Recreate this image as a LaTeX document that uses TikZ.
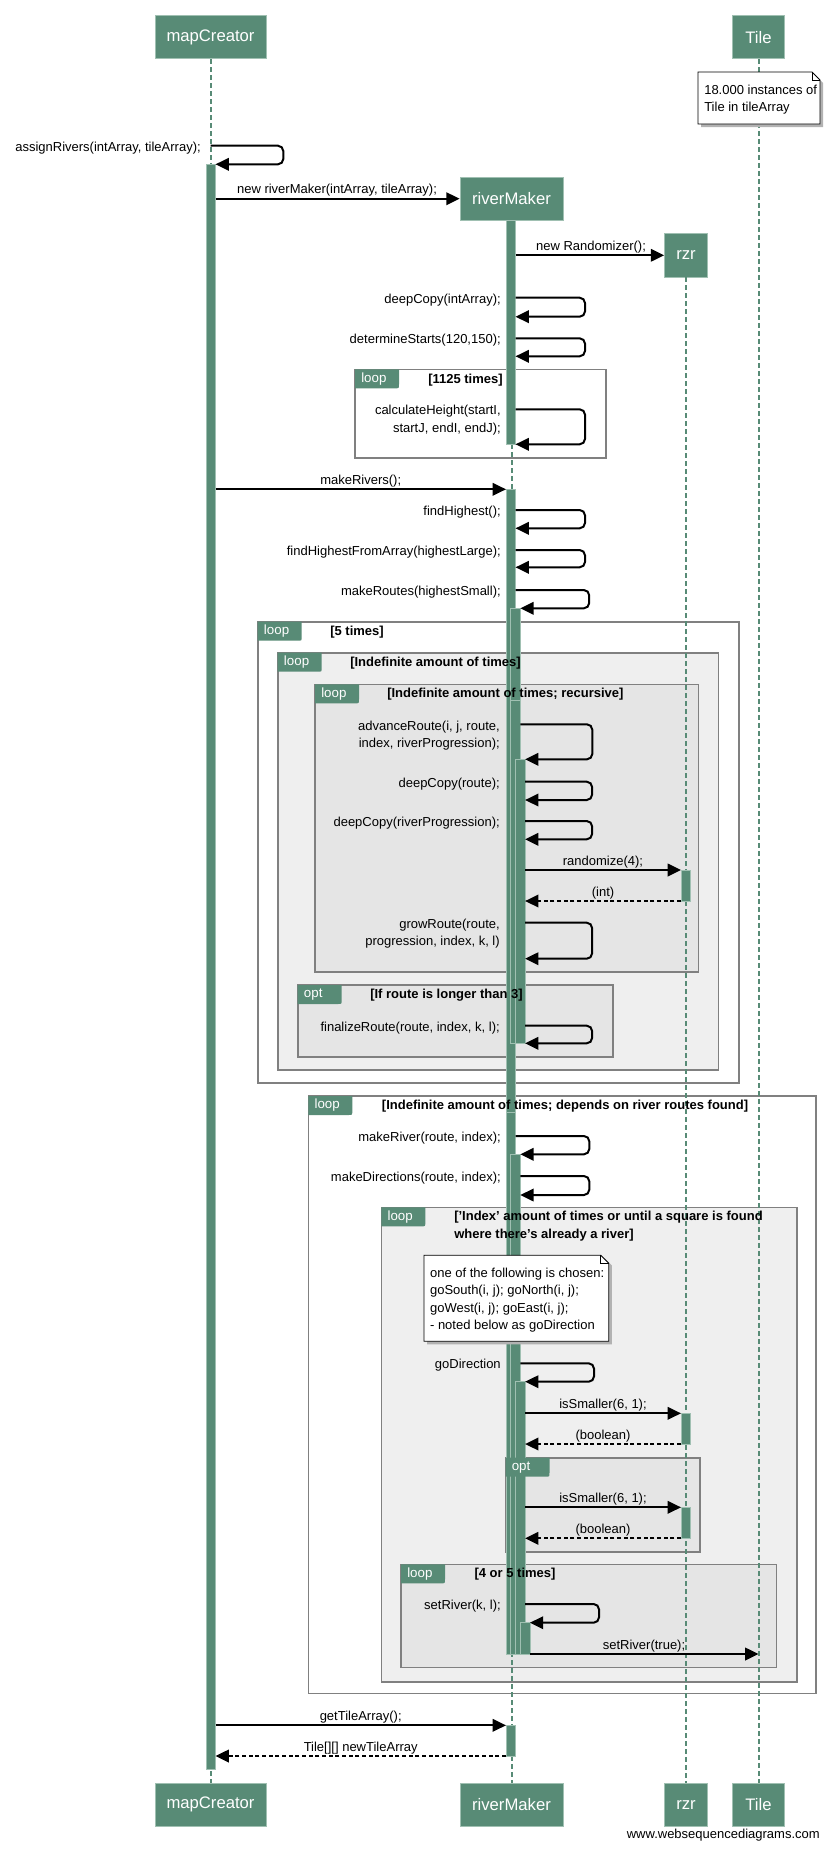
\documentclass[tikz,border=0pt]{standalone}
\usepackage{fontspec}
\setmainfont{Liberation Sans}
\usepackage{xcolor}
\usetikzlibrary{arrows.meta}

\definecolor{seqgreen}{RGB}{88,139,118}
\definecolor{seqedge}{RGB}{160,192,178}
\definecolor{framegray}{RGB}{128,128,128}
\definecolor{fillA}{RGB}{239,239,239}
\definecolor{fillB}{RGB}{229,229,229}

\tikzset{
  head/.style={fill=seqgreen, draw=seqedge, line width=0.6pt, text=white, inner sep=0pt, font=\fontsize{12.5}{15}\selectfont},
  life/.style={seqgreen, line width=1.5pt, dash pattern=on 3.75pt off 2.25pt},
  bar/.style={fill=seqgreen, draw=seqedge, line width=0.5pt},
  frame/.style={draw=framegray, line width=1.2pt},
  tagbox/.style={fill=seqgreen},
  tagtxt/.style={text=white, anchor=west, inner sep=0pt, font=\fontsize{10}{12}\selectfont},
  guard/.style={anchor=base west, inner sep=0pt, align=left, font=\bfseries\fontsize{9.75}{13}\selectfont},
  call/.style={line width=1.5pt, -{Triangle[length=10pt,width=9.4pt]}},
  reply/.style={call, dash pattern=on 3pt off 2pt},
  lbl/.style={inner sep=0pt, font=\fontsize{9.75}{13}\selectfont},
  notebox/.style={fill=white, draw=black, line width=0.6pt},
}

\begin{document}
\begin{tikzpicture}[x=0.75pt,y=0.75pt,yscale=-1,xscale=1]
\useasboundingbox (0,0) rectangle (826,1850);

% lifeline and bar edges
\coordinate (mc) at (210.5,0);
\coordinate (mcR) at (215.5,0);
\coordinate (rm1L) at (506,0);
\coordinate (rm1R) at (515.5,0);
\coordinate (rm2R) at (520.3,0);
\coordinate (rm3R) at (525.1,0);
\coordinate (rm4R) at (529.9,0);
\coordinate (rzL) at (681,0);
\coordinate (ti) at (758.5,0);

%Shape: Frames
\draw[frame, fill=white] (355,369.3) rectangle (606,457.7);
\draw[frame, fill=white] (257.7,621.7) rectangle (739,1082.7);
\draw[frame, fill=fillA] (277.7,652.7) rectangle (718.3,1070);
\draw[frame, fill=fillB] (315,684.3) rectangle (698.3,971.7);
\draw[frame, fill=fillB] (297.7,985) rectangle (612.7,1056.7);
\draw[frame, fill=white] (308.3,1096) rectangle (816,1693.3);
\draw[frame, fill=fillA] (381.3,1207.3) rectangle (797,1681.7);
\draw[frame, fill=fillB] (505.5,1457.7) rectangle (700,1551.7);
\draw[frame, fill=fillB] (401,1564.3) rectangle (776.5,1667.3);

%Shape: Heads
\node[head, minimum width=83.25pt, minimum height=32.25pt] (mcTop) at (210.5,37.2) {mapCreator};
\node[head, minimum width=39pt, minimum height=32.25pt] (tiTop) at (758.5,37.2) {Tile};
\node[head, minimum width=77.25pt, minimum height=32.25pt] (rmTop) at (511.5,198.5) {riverMaker};
\node[head, minimum width=32.25pt, minimum height=33pt] (rzTop) at (686,255) {rzr};
\node[head, minimum width=83.25pt, minimum height=32.25pt] (mcBot) at (210.5,1804.7) {mapCreator};
\node[head, minimum width=77.25pt, minimum height=32.25pt] (rmBot) at (511.5,1804.7) {riverMaker};
\node[head, minimum width=32.25pt, minimum height=32.25pt] (rzBot) at (686,1804.7) {rzr};
\node[head, minimum width=39pt, minimum height=32.25pt] (tiBot) at (758.5,1804.7) {Tile};

%Straight Lines: lifelines
\draw[life] (mcTop.south) -- (mcBot.north);
\draw[life] (rmTop.south) -- (rmBot.north);
\draw[life] (rzTop.south) -- (rzBot.north);
\draw[life] (tiTop.south) -- (tiBot.north);

%Shape: Activation bars
\draw[bar] (206,164.3) rectangle (215.5,1769.3);
\draw[bar] (506,220) rectangle (515.5,444.3);
\draw[bar] (506,489.3) rectangle (515.5,1654);
\draw[bar] (510.8,608.3) rectangle (520.3,1043.3);
\draw[bar] (510.8,700) rectangle (520.3,1043.3);
\draw[bar] (515.6,759.3) rectangle (525.1,1043.3);
\draw[bar] (506,1112) rectangle (515.5,1654);
\draw[bar] (510.8,1154.3) rectangle (520.3,1654);
\draw[bar] (515.6,1381.7) rectangle (525.1,1654);
\draw[bar] (520.4,1622.7) rectangle (529.9,1654);
\draw[bar] (506,1725.3) rectangle (515.5,1756);
\draw[bar] (681,870) rectangle (690,901);
\draw[bar] (681,1413.3) rectangle (690,1444);
\draw[bar] (681,1507.3) rectangle (690,1538.3);

%Shape: Tags and guards
\fill[tagbox] (355,369.3) -- (399,369.3) -- (399,384.3) .. controls (399,388.3) .. (395,388.3) -- (355,388.3) -- cycle;
\node[tagtxt] (tag1) at (361,378.8) {loop};
\node[guard] (grd1) at (428,383) {[1125 times]};

\fill[tagbox] (257.7,621.7) -- (301.7,621.7) -- (301.7,636.7) .. controls (301.7,640.7) .. (297.7,640.7) -- (257.7,640.7) -- cycle;
\node[tagtxt] (tag2) at (263.7,631.2) {loop};
\node[guard] (grd2) at (330,635.2) {[5 times]};

\fill[tagbox] (277.7,652.7) -- (321.7,652.7) -- (321.7,667.7) .. controls (321.7,671.7) .. (317.7,671.7) -- (277.7,671.7) -- cycle;
\node[tagtxt] (tag3) at (283.7,662.2) {loop};
\node[guard] (grd3) at (350,666.2) {[Indefinite amount of times]};

\fill[tagbox] (315,684.3) -- (359,684.3) -- (359,699.3) .. controls (359,703.3) .. (355,703.3) -- (315,703.3) -- cycle;
\node[tagtxt] (tag4) at (321,693.8) {loop};
\node[guard] (grd4) at (387,697.8) {[Indefinite amount of times; recursive]};

\fill[tagbox] (297.7,985) -- (341.7,985) -- (341.7,1000) .. controls (341.7,1004) .. (337.7,1004) -- (297.7,1004) -- cycle;
\node[tagtxt] (tag5) at (303.7,994.5) {opt};
\node[guard] (grd5) at (370,998.5) {[If route is longer than 3]};

\fill[tagbox] (308.3,1096) -- (352.3,1096) -- (352.3,1111) .. controls (352.3,1115) .. (348.3,1115) -- (308.3,1115) -- cycle;
\node[tagtxt] (tag6) at (314.3,1105.5) {loop};
\node[guard] (grd6) at (381.7,1109.5) {[Indefinite amount of times; depends on river routes found]};

\fill[tagbox] (381.3,1207.3) -- (425.3,1207.3) -- (425.3,1222.3) .. controls (425.3,1226.3) .. (421.3,1226.3) -- (381.3,1226.3) -- cycle;
\node[tagtxt] (tag7) at (387.3,1216.8) {loop};
\node[guard, anchor=north west] (grd7) at (454,1211.2) {['Index' amount of times or until a square is found\\where there's already a river]};

\fill[tagbox] (505.5,1457.7) -- (549.5,1457.7) -- (549.5,1472.7) .. controls (549.5,1476.7) .. (545.5,1476.7) -- (505.5,1476.7) -- cycle;
\node[tagtxt] (tag8) at (511.5,1467.2) {opt};

\fill[tagbox] (401,1564.3) -- (445,1564.3) -- (445,1579.3) .. controls (445,1583.3) .. (441,1583.3) -- (401,1583.3) -- cycle;
\node[tagtxt] (tag9) at (407,1573.8) {loop};
\node[guard] (grd9) at (474.3,1577.8) {[4 or 5 times]};

%Straight Lines: messages
\draw[call, rounded corners=4pt] (mc |- 0,145.7) -- ++(72.8,0) |- (mcR |- 0,164.3);
\node[lbl, anchor=base east] (lAssign) at (201,151.5) {assignRivers(intArray, tileArray);};

\draw[call] (mcR |- 0,198.7) -- (rmTop.west |- 0,198.7);
\node[lbl, anchor=base] (lNewRm) at (337,193.7) {new riverMaker(intArray, tileArray);};

\draw[call] (rm1R |- 0,255.3) -- (rzTop.west |- 0,255.3);
\node[lbl, anchor=base] (lNewRz) at (591,250.3) {new Randomizer();};

\draw[call, rounded corners=4pt] (rm1R |- 0,297.7) -- ++(69.5,0) |- (rm1R |- 0,316.7);
\node[lbl, anchor=base east] (lCopyInt) at (501,303.2) {deepCopy(intArray);};

\draw[call, rounded corners=4pt] (rm1R |- 0,338.3) -- ++(69.5,0) |- (rm1R |- 0,356.3);
\node[lbl, anchor=base east] (lStarts) at (501,343.8) {determineStarts(120,150);};

\draw[call, rounded corners=4pt] (rm1R |- 0,409.3) -- ++(69.5,0) |- (rm1R |- 0,444.3);
\node[lbl, anchor=north east, align=right] (lHeight) at (501,405.3) {calculateHeight(startI,\\startJ, endI, endJ);};

\draw[call] (mcR |- 0,489.3) -- (rm1L |- 0,489.3);
\node[lbl, anchor=base] (lRivers) at (360.7,484.3) {makeRivers();};

\draw[call, rounded corners=4pt] (rm1R |- 0,510) -- ++(69.5,0) |- (rm1R |- 0,528.3);
\node[lbl, anchor=base east] (lHigh) at (501,515.5) {findHighest();};

\draw[call, rounded corners=4pt] (rm1R |- 0,550) -- ++(69.5,0) |- (rm1R |- 0,567.3);
\node[lbl, anchor=base east] (lHighArr) at (501,555.5) {findHighestFromArray(highestLarge);};

\draw[call, rounded corners=4pt] (rm1R |- 0,590) -- ++(73.7,0) |- (rm2R |- 0,608.3);
\node[lbl, anchor=base east] (lRoutes) at (501,595.5) {makeRoutes(highestSmall);};

\draw[call, rounded corners=4pt] (rm2R |- 0,724.3) -- ++(72,0) |- (rm3R |- 0,759.3);
\node[lbl, anchor=north east, align=right] (lAdvance) at (500,720.3) {advanceRoute(i, j, route,\\index, riverProgression);};

\draw[call, rounded corners=4pt] (rm3R |- 0,781.7) -- ++(67,0) |- (rm3R |- 0,800);
\node[lbl, anchor=base east] (lCopyRoute) at (500,787.2) {deepCopy(route);};

\draw[call, rounded corners=4pt] (rm3R |- 0,821) -- ++(67,0) |- (rm3R |- 0,839.3);
\node[lbl, anchor=base east] (lCopyProg) at (500,826.5) {deepCopy(riverProgression);};

\draw[call] (rm3R |- 0,870) -- (rzL |- 0,870);
\node[lbl, anchor=base] (lRand) at (603,865) {randomize(4);};

\draw[reply] (rzL |- 0,901) -- (rm3R |- 0,901);
\node[lbl, anchor=base] (lInt) at (603,896) {(int)};

\draw[call, rounded corners=4pt] (rm3R |- 0,922.7) -- ++(67,0) |- (rm3R |- 0,958.7);
\node[lbl, anchor=north east, align=right] (lGrow) at (500,918.7) {growRoute(route,\\progression, index, k, l)};

\draw[call, rounded corners=4pt] (rm3R |- 0,1025.7) -- ++(67,0) |- (rm3R |- 0,1043.3);
\node[lbl, anchor=base east] (lFinal) at (500,1031.2) {finalizeRoute(route, index, k, l);};

\draw[call, rounded corners=4pt] (rm1R |- 0,1136) -- ++(73.8,0) |- (rm2R |- 0,1154.3);
\node[lbl, anchor=base east] (lRiver) at (501,1141.5) {makeRiver(route, index);};

\draw[call, rounded corners=4pt] (rm2R |- 0,1176) -- ++(69,0) |- (rm2R |- 0,1195);
\node[lbl, anchor=base east] (lDirs) at (501,1181.5) {makeDirections(route, index);};

\draw[call, rounded corners=4pt] (rm2R |- 0,1363.3) -- ++(73.7,0) |- (rm3R |- 0,1381.7);
\node[lbl, anchor=base east] (lGo) at (501,1368.8) {goDirection};

\draw[call] (rm3R |- 0,1413.3) -- (rzL |- 0,1413.3);
\node[lbl, anchor=base] (lSmall1) at (603,1408.3) {isSmaller(6, 1);};

\draw[reply] (rzL |- 0,1444) -- (rm3R |- 0,1444);
\node[lbl, anchor=base] (lBool1) at (603,1439) {(boolean)};

\draw[call] (rm3R |- 0,1507.3) -- (rzL |- 0,1507.3);
\node[lbl, anchor=base] (lSmall2) at (603,1502.3) {isSmaller(6, 1);};

\draw[reply] (rzL |- 0,1538.3) -- (rm3R |- 0,1538.3);
\node[lbl, anchor=base] (lBool2) at (603,1533.3) {(boolean)};

\draw[call, rounded corners=4pt] (rm3R |- 0,1604) -- ++(73.9,0) |- (rm4R |- 0,1622.7);
\node[lbl, anchor=base east] (lSetKL) at (501,1609.5) {setRiver(k, l);};

\draw[call] (rm4R |- 0,1654) -- (ti |- 0,1654);
\node[lbl, anchor=base] (lSetTrue) at (644,1649) {setRiver(true);};

\draw[call] (mcR |- 0,1725.3) -- (rm1L |- 0,1725.3);
\node[lbl, anchor=base] (lGet) at (360.7,1720.3) {getTileArray();};

\draw[reply] (rm1L |- 0,1756) -- (mcR |- 0,1756);
\node[lbl, anchor=base] (lTiles) at (360.7,1751) {Tile[][] newTileArray};

%Shape: Notes
\fill[black!30] (701,75) -- (815,75) -- (823,83) -- (823,127) -- (701,127) -- cycle;
\draw[notebox] (698,72) -- (812,72) -- (820,80) -- (820,124) -- (698,124) -- cycle;
\draw[line width=0.6pt] (812,72) -- (812,80) -- (820,80);
\node[lbl, anchor=north west, align=left] (nTile) at (704,84.5) {18.000 instances of\\Tile in tileArray};

\fill[black!30] (427,1258.3) -- (604.8,1258.3) -- (611.8,1265.3) -- (611.8,1344.3) -- (427,1344.3) -- cycle;
\draw[notebox] (424,1255.3) -- (600.8,1255.3) -- (608.8,1263.3) -- (608.8,1341.3) -- (424,1341.3) -- cycle;
\draw[line width=0.6pt] (600.8,1255.3) -- (600.8,1263.3) -- (608.8,1263.3);
\node[lbl, anchor=north west, align=left] (nDir) at (429.8,1267.8) {one of the following is chosen:\\goSouth(i, j); goNorth(i, j);\\goWest(i, j); goEast(i, j);\\- noted below as goDirection};

% Text Node
\node[lbl, anchor=east] (wsd) at (820,1835) {www.websequencediagrams.com};

\end{tikzpicture}
\end{document}
